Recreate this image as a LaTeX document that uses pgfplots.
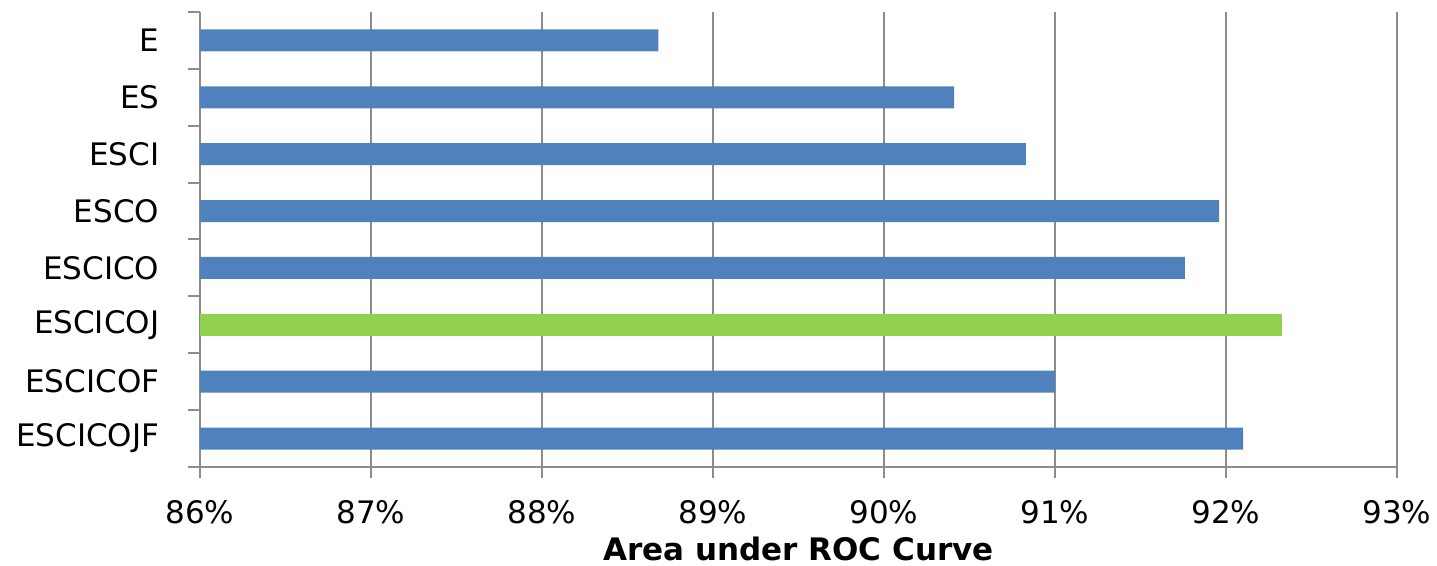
\documentclass[border=0pt]{standalone}
\usepackage{fontspec}
\setmainfont{DejaVu Sans}
\usepackage{pgfplots}
\pgfplotsset{compat=1.18}
\definecolor{barblue}{HTML}{4F81BD}
\definecolor{bargreen}{HTML}{92D050}
\definecolor{gridgray}{HTML}{8C8C8C}
\begin{document}
\fontsize{15.5pt}{18pt}\selectfont
\begin{tikzpicture}
\begin{axis}[
  scale only axis,
  width=598.5pt, height=227.5pt,
  xbar, bar width=11pt,
  xmin=86, xmax=93,
  xtick={86,87,...,93},
  xticklabel={\pgfmathprintnumber{\tick}\%},
  /pgf/number format/assume math mode=true,
  ymin=-0.5, ymax=7.5, y dir=reverse,
  ytick={0,...,7},
  yticklabels={E,ES,ESCI,ESCO,ESCICO,ESCICOJ,ESCICOF,ESCICOJF},
  minor ytick={-0.5,0.5,...,7.5},
  major y tick style={draw=none},
  minor y tick style={draw=gridgray, line width=1pt},
  major x tick style={draw=gridgray, line width=1pt},
  tick align=outside,
  major tick length=5.5pt,
  minor tick length=6pt,
  axis x line*=bottom, axis y line*=left,
  axis line style={draw=gridgray, line width=1pt},
  xmajorgrids, major grid style={draw=gridgray, line width=1pt},
  yticklabel style={xshift=-9.5pt, font=\fontsize{15.5pt}{18pt}\selectfont},
  xticklabel style={yshift=-6pt, font=\fontsize{15.5pt}{18pt}\selectfont},
  xlabel={\textbf{Area under ROC Curve}},
  xlabel style={font=\fontsize{15.5pt}{18pt}\selectfont, yshift=4pt},
]
\addplot[fill=barblue, draw=none, bar shift=0pt] coordinates {
  (88.68,0) (90.41,1) (90.83,2) (91.96,3) (91.76,4) (91.00,6) (92.10,7)
};
\addplot[fill=bargreen, draw=none, bar shift=0pt] coordinates {
  (92.33,5)
};
\coordinate (sw) at (rel axis cs:0,0);
\coordinate (ne) at (rel axis cs:1,1);
\end{axis}
\pgfresetboundingbox
\path ([shift={(-100pt,-49.5pt)}]sw) rectangle ([shift={(20pt,6pt)}]ne);
\end{tikzpicture}
\end{document}
